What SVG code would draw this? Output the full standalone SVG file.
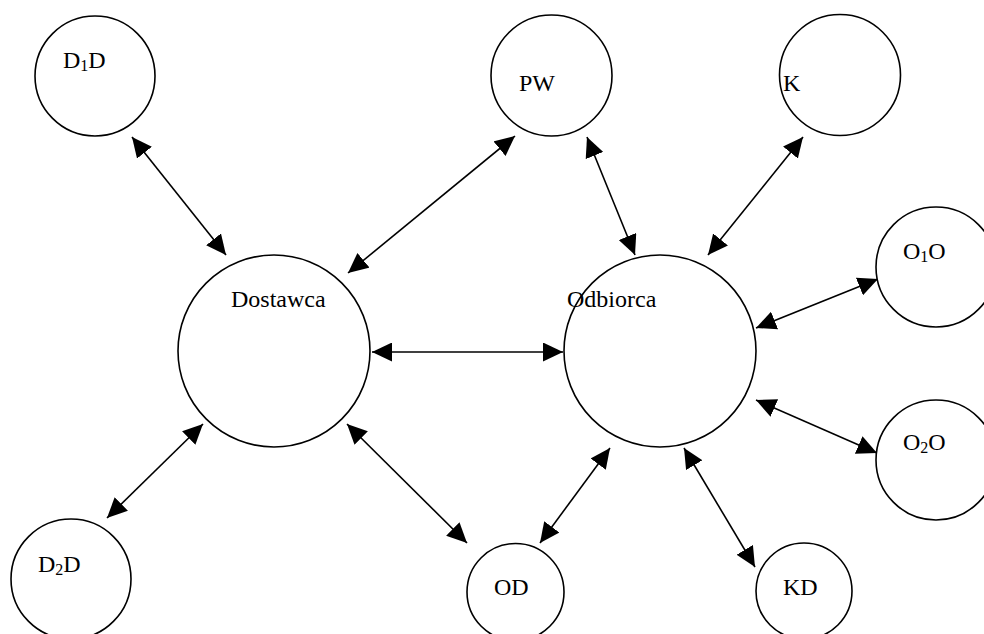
<svg xmlns="http://www.w3.org/2000/svg" width="984" height="634" viewBox="0 0 984 634">
<style>
.n{fill:#fff;stroke:#000;stroke-width:1.6}
.t{font-family:"Liberation Serif","Times New Roman",serif;font-size:24px;fill:#000}
.s{font-size:16px}
.c line{stroke:#000;stroke-width:1.6;marker-start:url(#ah);marker-end:url(#ah)}
</style>
<defs>
<marker id="ah" markerUnits="userSpaceOnUse" markerWidth="20" markerHeight="19" refX="20" refY="9.5" orient="auto-start-reverse">
<path d="M0,0 L20,9.5 L0,19 z" fill="#000"/>
</marker>
</defs>
<rect width="984" height="634" fill="#fff"/>
<g id="connectors" class="c">
<line x1="132" y1="137" x2="226" y2="255"/>
<line x1="348" y1="273" x2="515" y2="136"/>
<line x1="587" y1="137" x2="635" y2="255"/>
<line x1="803" y1="137" x2="708" y2="255"/>
<line x1="756" y1="328" x2="878" y2="279"/>
<line x1="756" y1="400" x2="877" y2="453"/>
<line x1="372" y1="352" x2="563" y2="352"/>
<line x1="203" y1="424" x2="107" y2="518"/>
<line x1="347" y1="424" x2="467" y2="543"/>
<line x1="610" y1="448" x2="540" y2="543"/>
<line x1="684" y1="448" x2="755" y2="567"/>
</g>
<g id="D1D"><circle class="n" cx="95" cy="76" r="60"/><text class="t" x="63" y="68">D<tspan class="s" dy="3">1</tspan><tspan dy="-3">D</tspan></text></g>
<g id="PW"><circle class="n" cx="551.5" cy="75.5" r="60.5"/><text class="t" x="519" y="91">PW</text></g>
<g id="K"><circle class="n" cx="840" cy="75" r="60.5"/><text class="t" x="783" y="91">K</text></g>
<g id="O1O"><circle class="n" cx="936" cy="267" r="60"/><text class="t" x="903" y="259">O<tspan class="s" dy="3">1</tspan><tspan dy="-3">O</tspan></text></g>
<g id="O2O"><circle class="n" cx="936" cy="460" r="60"/><text class="t" x="903" y="450">O<tspan class="s" dy="3">2</tspan><tspan dy="-3">O</tspan></text></g>
<g id="Dostawca"><circle class="n" cx="274" cy="351" r="96"/><text class="t" x="231" y="307">Dostawca</text></g>
<g id="Odbiorca"><circle class="n" cx="660" cy="351" r="96"/><text class="t" x="567" y="307">Odbiorca</text></g>
<g id="D2D"><circle class="n" cx="71" cy="579" r="60"/><text class="t" x="38" y="572">D<tspan class="s" dy="3">2</tspan><tspan dy="-3">D</tspan></text></g>
<g id="OD"><circle class="n" cx="515.5" cy="592" r="48.5"/><text class="t" x="494" y="595">OD</text></g>
<g id="KD"><circle class="n" cx="804" cy="591" r="48"/><text class="t" x="783" y="595">KD</text></g>
</svg>
